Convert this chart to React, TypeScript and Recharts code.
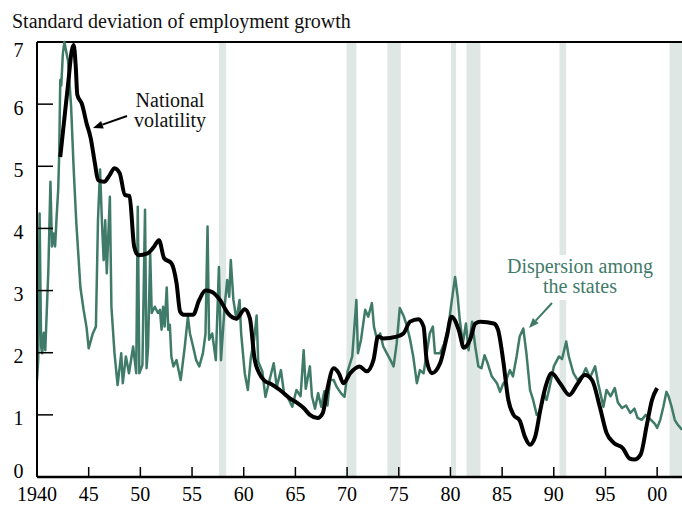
import React from 'react'
import { LineChart, Line, XAxis, YAxis, ReferenceArea, ReferenceLine } from 'recharts'

const GREEN = '#3f7b68'
const BAND = '#dfe7e4'
const FONT = "Liberation Serif, Times New Roman, DejaVu Serif, serif"

// NBER recessions shaded in the original (start, end)
const recessions: [number, number][] = [
  [1957.6, 1958.3],
  [1969.95, 1970.9],
  [1973.9, 1975.2],
  [1980.05, 1980.55],
  [1981.55, 1982.9],
  [1990.55, 1991.2],
  [2001.2, 2002.5],
]

const yTicks = [0, 1, 2, 3, 4, 5, 6, 7]
const xTicks = [1940, 1945, 1950, 1955, 1960, 1965, 1970, 1975, 1980, 1985, 1990, 1995, 2000]
const xTickLabels = ['1940', '45', '50', '55', '60', '65', '70', '75', '80', '85', '90', '95', '00']

// National volatility [year, value]
const national: [number, number][] = [
  [1942.25, 5.15], [1942.7, 5.85], [1943.05, 6.39], [1943.35, 6.85], [1943.55, 6.95], [1943.75, 6.6],
  [1943.9, 6.15], [1944.35, 6.0], [1944.8, 5.69], [1945.2, 5.45], [1945.6, 5.05], [1945.9, 4.78],
  [1946.5, 4.75], [1947.0, 4.85], [1947.5, 4.97], [1948.0, 4.89], [1948.5, 4.54], [1948.95, 4.52],
  [1949.4, 3.71], [1949.8, 3.57], [1950.7, 3.6], [1951.3, 3.7], [1951.8, 3.81], [1952.3, 3.52],
  [1953.0, 3.44], [1953.5, 3.12], [1953.85, 2.66], [1954.2, 2.61], [1955.1, 2.61], [1955.7, 2.85],
  [1956.3, 3.0], [1956.9, 2.98], [1957.7, 2.85], [1958.5, 2.63], [1959.3, 2.55], [1960.1, 2.7],
  [1960.6, 2.55], [1961.05, 1.9], [1961.5, 1.67], [1962.0, 1.55], [1962.6, 1.5], [1963.5, 1.4],
  [1964.5, 1.26], [1965.1, 1.2], [1965.8, 1.11], [1966.4, 1.0], [1967.15, 0.95], [1967.65, 1.03],
  [1968.05, 1.38], [1968.7, 1.75], [1969.2, 1.67], [1969.65, 1.51], [1970.3, 1.67], [1971.2, 1.78],
  [1971.9, 1.7], [1972.55, 1.88], [1973.0, 2.26], [1973.5, 2.23], [1974.8, 2.26], [1975.45, 2.31],
  [1976.1, 2.5], [1976.9, 2.54], [1977.4, 2.42], [1977.7, 1.88], [1978.2, 1.67], [1979.0, 1.83],
  [1979.65, 2.26], [1980.1, 2.58], [1980.8, 2.37], [1981.3, 2.08], [1981.9, 2.21], [1982.4, 2.47],
  [1982.9, 2.5], [1984.2, 2.47], [1984.6, 2.37], [1985.1, 1.88], [1985.6, 1.24], [1986.1, 1.0],
  [1986.7, 0.91], [1987.2, 0.65], [1987.7, 0.52], [1988.2, 0.65], [1988.7, 1.08], [1989.2, 1.45],
  [1989.8, 1.67], [1990.6, 1.51], [1991.5, 1.32], [1992.3, 1.5], [1993.0, 1.64], [1993.7, 1.56],
  [1994.45, 1.13], [1995.1, 0.71], [1995.8, 0.55], [1996.7, 0.46], [1997.3, 0.3], [1997.8, 0.28],
  [1998.4, 0.36], [1999.0, 0.84], [1999.5, 1.24], [2000.0, 1.43],
]

// Dispersion among the states [year, value]
const dispersion: [number, number][] = [
  [1940.0, 1.56], [1940.12, 1.9], [1940.25, 4.24], [1940.4, 2.1], [1940.5, 1.99], [1940.65, 2.32],
  [1940.8, 2.04], [1941.0, 2.9], [1941.1, 3.33], [1941.3, 4.75], [1941.45, 3.71], [1941.6, 3.92],
  [1941.75, 3.71], [1941.9, 4.19], [1942.05, 4.62], [1942.15, 5.2], [1942.25, 6.39], [1942.35, 6.3],
  [1942.5, 6.81], [1942.65, 7.0], [1943.0, 6.7], [1943.3, 5.96], [1943.55, 4.95], [1943.8, 4.1],
  [1944.2, 3.05], [1944.5, 2.7], [1944.8, 2.4], [1945.0, 2.07], [1945.4, 2.31], [1945.7, 2.42],
  [1945.9, 4.13], [1946.1, 4.95], [1946.3, 4.03], [1946.45, 3.49], [1946.6, 4.13], [1946.75, 3.28],
  [1947.05, 4.51], [1947.2, 2.74], [1947.5, 1.99], [1947.8, 1.48], [1948.15, 1.99], [1948.3, 1.51],
  [1948.6, 1.94], [1948.9, 1.67], [1949.3, 2.1], [1949.6, 1.67], [1949.75, 4.35], [1949.9, 1.67],
  [1950.2, 1.8], [1950.45, 4.3], [1950.6, 1.75], [1950.75, 2.1], [1950.95, 3.6], [1951.1, 2.64],
  [1951.4, 2.74], [1951.7, 2.64], [1951.9, 2.69], [1952.05, 2.37], [1952.2, 2.74], [1952.35, 2.42],
  [1952.55, 3.05], [1952.7, 2.37], [1952.85, 2.45], [1953.0, 1.94], [1953.2, 1.78], [1953.5, 1.88],
  [1953.9, 1.56], [1954.3, 2.1], [1954.6, 2.58], [1954.8, 2.31], [1955.1, 2.1], [1955.4, 1.88],
  [1955.7, 1.78], [1956.05, 1.99], [1956.3, 2.3], [1956.5, 4.03], [1956.65, 2.21], [1956.95, 2.31],
  [1957.3, 1.88], [1957.6, 3.38], [1957.8, 1.88], [1958.15, 2.74], [1958.4, 3.17], [1958.6, 2.9],
  [1958.75, 3.49], [1959.0, 2.85], [1959.3, 2.53], [1959.6, 2.85], [1959.75, 2.31], [1960.1, 1.67],
  [1960.4, 1.4], [1960.7, 1.94], [1961.0, 2.2], [1961.25, 2.6], [1961.4, 1.86], [1961.8, 1.7],
  [1962.1, 1.29], [1962.5, 1.56], [1962.9, 1.83], [1963.2, 1.45], [1963.6, 1.72], [1963.9, 1.35],
  [1964.2, 1.3], [1964.7, 1.13], [1965.1, 1.4], [1965.5, 1.3], [1965.8, 2.04], [1966.0, 1.42],
  [1966.4, 1.78], [1966.6, 1.3], [1966.9, 1.1], [1967.2, 1.35], [1967.5, 1.13], [1967.8, 1.38],
  [1968.1, 1.15], [1968.35, 1.56], [1968.7, 1.56], [1969.0, 1.45], [1969.4, 1.35], [1969.75, 1.29],
  [1970.05, 1.7], [1970.5, 1.94], [1970.9, 2.85], [1971.05, 1.99], [1971.35, 2.21], [1971.75, 2.69],
  [1972.05, 2.58], [1972.4, 2.8], [1972.6, 2.42], [1972.9, 2.21], [1973.2, 2.31], [1973.5, 2.1],
  [1973.85, 1.99], [1974.2, 1.88], [1974.5, 1.78], [1974.8, 2.15], [1975.1, 2.72], [1975.45, 2.6],
  [1975.75, 2.45], [1976.1, 2.21], [1976.4, 1.94], [1976.75, 1.51], [1977.05, 1.72], [1977.4, 1.67],
  [1977.7, 1.99], [1978.0, 2.31], [1978.3, 2.42], [1978.5, 1.99], [1979.0, 1.99], [1979.4, 2.15],
  [1979.8, 2.42], [1980.1, 2.8], [1980.45, 3.22], [1980.7, 2.9], [1980.9, 2.53], [1981.2, 2.15],
  [1981.5, 2.47], [1981.75, 2.04], [1982.1, 2.5], [1982.4, 2.1], [1982.7, 1.78], [1983.0, 1.75],
  [1983.3, 1.96], [1983.6, 1.83], [1984.0, 1.62], [1984.5, 1.51], [1984.8, 1.37], [1985.1, 1.5],
  [1985.4, 1.56], [1985.75, 1.72], [1986.05, 1.62], [1986.4, 1.94], [1986.7, 2.26], [1987.05, 2.39],
  [1987.35, 1.99], [1987.7, 1.4], [1988.0, 1.24], [1988.35, 1.0], [1988.7, 1.05], [1989.0, 1.35],
  [1989.3, 1.24], [1989.6, 1.45], [1990.0, 1.78], [1990.5, 1.94], [1990.8, 1.9], [1991.2, 2.18],
  [1991.45, 1.94], [1991.9, 1.67], [1992.3, 1.56], [1992.8, 1.64], [1993.1, 1.75], [1993.5, 1.6],
  [1994.0, 1.78], [1994.3, 1.5], [1994.8, 1.13], [1995.1, 1.4], [1995.5, 1.3], [1995.9, 1.43],
  [1996.2, 1.2], [1996.6, 1.11], [1997.0, 1.15], [1997.4, 1.03], [1997.8, 1.1], [1998.1, 0.95],
  [1998.5, 0.92], [1998.9, 1.0], [1999.4, 0.92], [1999.8, 0.85], [2000.0, 0.79], [2000.3, 0.92],
  [2000.6, 1.13], [2000.9, 1.37], [2001.1, 1.3], [2001.4, 1.13], [2001.7, 0.92], [2002.0, 0.84],
  [2002.4, 0.76],
]

const nationalData = national.map(([t, v]) => ({ t, v }))
const dispersionData = dispersion.map(([t, v]) => ({ t, v }))

function LeftTick(props: any) {
  const { x, y, payload } = props
  const v = payload.value
  const dy = v === 7 ? 15 : v === 0 ? 1 : 10.5
  return (
    <g>
      <line x1={x} x2={x + 16} y1={y} y2={y} stroke="#000" strokeWidth={1.5} />
      <text x={x - 18.5} y={y + dy} textAnchor="middle" fill="#000" fontFamily={FONT} fontSize={20}>
        {v}
      </text>
    </g>
  )
}

function RightTick(props: any) {
  const { x, y } = props
  return <line x1={x - 16} x2={x} y1={y} y2={y} stroke="#000" strokeWidth={1.5} />
}

function BottomTick(props: any) {
  const { x, y, payload } = props
  const i = xTicks.indexOf(payload.value)
  return (
    <g>
      <line x1={x} x2={x} y1={y} y2={y - 10} stroke="#000" strokeWidth={1.5} />
      <text x={x} y={y + 24} textAnchor="middle" fill="#000" fontFamily={FONT} fontSize={20}>
        {xTickLabels[i]}
      </text>
    </g>
  )
}

function Arrow({ x1, y1, x2, y2, color }: { x1: number; y1: number; x2: number; y2: number; color: string }) {
  const dx = x2 - x1
  const dy = y2 - y1
  const len = Math.hypot(dx, dy)
  const ux = dx / len
  const uy = dy / len
  const bx = x2 - ux * 10
  const by = y2 - uy * 10
  const pts = `${x2},${y2} ${bx - uy * 4},${by + ux * 4} ${bx + uy * 4},${by - ux * 4}`
  return (
    <g>
      <line x1={x1} y1={y1} x2={bx} y2={by} stroke={color} strokeWidth={2} />
      <polygon points={pts} fill={color} />
    </g>
  )
}

export default function App() {
  return (
    <div style={{ position: 'fixed', left: 0, top: 0, width: 682, height: 505, overflow: 'hidden', background: '#fff' }}>
      <LineChart width={690} height={505} margin={{ top: 42, right: 6, bottom: 27, left: 36 }}>
        <XAxis
          dataKey="t"
          type="number"
          domain={[1940, 2002.5]}
          ticks={xTicks}
          interval={0}
          allowDataOverflow
          height={1}
          tickSize={0}
          tickMargin={0}
          tickLine={false}
          tick={BottomTick}
          axisLine={{ stroke: '#000', strokeWidth: 2.5 }}
        />
        <YAxis
          yAxisId="l"
          width={1}
          domain={[0, 7]}
          ticks={yTicks}
          interval={0}
          tickSize={0}
          tickMargin={0}
          tickLine={false}
          tick={LeftTick}
          axisLine={{ stroke: '#000', strokeWidth: 2 }}
        />
        <YAxis
          yAxisId="r"
          orientation="right"
          width={1}
          domain={[0, 7]}
          ticks={yTicks}
          interval={0}
          tickSize={0}
          tickMargin={0}
          tickLine={false}
          tick={RightTick}
          axisLine={{ stroke: '#000', strokeWidth: 2 }}
        />
        {recessions.map(([a, b]) => (
          <ReferenceArea key={a} yAxisId="l" x1={a} x2={b} y1={0} y2={7} fill={BAND} fillOpacity={1} stroke="none" />
        ))}
        <ReferenceLine yAxisId="l" y={7} stroke="#000" strokeWidth={2} />
        <Line
          yAxisId="l"
          data={dispersionData}
          dataKey="v"
          type="linear"
          stroke={GREEN}
          strokeWidth={2.5}
          strokeLinejoin="round"
          dot={false}
          activeDot={false}
          isAnimationActive={false}
        />
        <Line
          yAxisId="l"
          data={nationalData}
          dataKey="v"
          type="monotone"
          stroke="#000"
          strokeWidth={4}
          strokeLinejoin="round"
          dot={false}
          activeDot={false}
          isAnimationActive={false}
        />
      </LineChart>
      <svg width={682} height={505} style={{ position: 'absolute', left: 0, top: 0, pointerEvents: 'none' }}>
        <rect x={504} y={255} width={152} height={45} fill="#fff" />
        <g fontFamily={FONT} fontSize={20}>
          <text x={12} y={28} fill="#111">
            Standard deviation of employment growth
          </text>
          <text x={170} y={107} textAnchor="middle" fill="#111">
            National
          </text>
          <text x={170} y={127} textAnchor="middle" fill="#111">
            volatility
          </text>
          <text x={580} y={273} textAnchor="middle" fill={GREEN}>
            Dispersion among
          </text>
          <text x={580} y={293} textAnchor="middle" fill={GREEN}>
            the states
          </text>
        </g>
        <Arrow x1={127} y1={116} x2={93} y2={128} color="#000" />
        <Arrow x1={552} y1={303} x2={529} y2={328} color={GREEN} />
      </svg>
    </div>
  )
}
